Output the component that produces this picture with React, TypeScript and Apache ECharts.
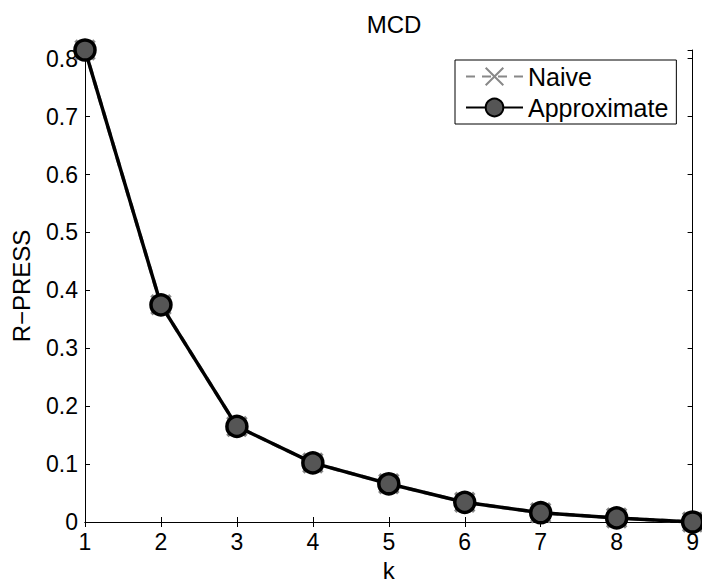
import React, { useEffect, useRef } from "react";
import * as echarts from "echarts";

const kValues = [1, 2, 3, 4, 5, 6, 7, 8, 9];
const naiveValues = [0.815, 0.375, 0.165, 0.102, 0.066, 0.034, 0.016, 0.007, 0.0];
const approxValues = [0.815, 0.375, 0.165, 0.102, 0.066, 0.034, 0.016, 0.007, 0.0];
const seriesNames = ["Naive", "Approximate"];
const titleText = "MCD";
const xName = "k";
const yName = "R\u2212PRESS";

const FONT = "'Liberation Sans', Arial, Helvetica, sans-serif";
const X_PATH = "path://M0,0 L10,10 M10,0 L0,10";

export default function App() {
  const ref = useRef<HTMLDivElement>(null);
  useEffect(() => {
    if (!ref.current) return;
    const chart = echarts.init(ref.current, null, { renderer: "svg" });
    const axisCommon = {
      axisLine: { show: true, lineStyle: { color: "#000", width: 1 } },
      axisTick: { show: true, inside: true, length: 5, lineStyle: { color: "#000", width: 1 } },
      splitLine: { show: false },
    };
    chart.setOption({
      animation: false,
      backgroundColor: "#fff",
      title: {
        text: titleText,
        left: 389,
        textAlign: "center",
        top: 7,
        textStyle: { fontFamily: FONT, fontSize: 24, fontWeight: "normal", color: "#000" },
      },
      grid: { left: 85, top: 50, right: 9, bottom: 58, show: false },
      legend: {
        orient: "vertical",
        left: 455,
        top: 60,
        itemWidth: 57,
        itemHeight: 22,
        itemGap: 6,
        padding: [4, 8, 4, 10],
        borderColor: "#000",
        borderWidth: 1,
        borderRadius: 0,
        backgroundColor: "#fff",
        textStyle: { fontFamily: FONT, fontSize: 25, color: "#000", padding: [0, 0, 0, 0] },
        data: seriesNames,
      },
      xAxis: [
        {
          ...axisCommon,
          type: "value",
          min: 1,
          max: 9,
          interval: 1,
          name: xName,
          nameLocation: "middle",
          nameGap: 36,
          nameTextStyle: { fontFamily: FONT, fontSize: 24, color: "#000" },
          axisLabel: { fontFamily: FONT, fontSize: 23, color: "#000", margin: 8 },
        },
        {
          ...axisCommon,
          type: "value",
          position: "top",
          min: 1,
          max: 9,
          interval: 1,
          axisLabel: { show: false },
        },
      ],
      yAxis: [
        {
          ...axisCommon,
          type: "value",
          min: 0,
          max: 0.815,
          interval: 0.1,
          name: yName,
          nameLocation: "middle",
          nameGap: 52,
          nameTextStyle: { fontFamily: FONT, fontSize: 24, color: "#000" },
          axisLabel: {
            fontFamily: FONT,
            fontSize: 23,
            color: "#000",
            margin: 7,
            showMaxLabel: false,
            formatter: (v: number) => String(Math.round(v * 10) / 10),
          },
        },
        {
          ...axisCommon,
          type: "value",
          position: "right",
          min: 0,
          max: 0.815,
          interval: 0.1,
          axisLabel: { show: false },
        },
      ],
      series: [
        {
          name: seriesNames[0],
          type: "line",
          data: kValues.map((k, i) => [k, naiveValues[i]]),
          symbol: X_PATH,
          symbolSize: 19,
          itemStyle: { color: "#888", borderColor: "#888", borderWidth: 3.5 },
          lineStyle: { color: "#888", width: 3.5, type: [9, 7] },
          z: 2,
        },
        {
          name: seriesNames[1],
          type: "line",
          data: kValues.map((k, i) => [k, approxValues[i]]),
          symbol: "circle",
          symbolSize: 20,
          itemStyle: { color: "#555", borderColor: "#000", borderWidth: 3.5 },
          lineStyle: { color: "#000", width: 3.5 },
          z: 3,
        },
      ],
    });
    return () => chart.dispose();
  }, []);
  return <div ref={ref} style={{ width: 702, height: 587, position: "absolute", left: 0, top: 0 }} />;
}
